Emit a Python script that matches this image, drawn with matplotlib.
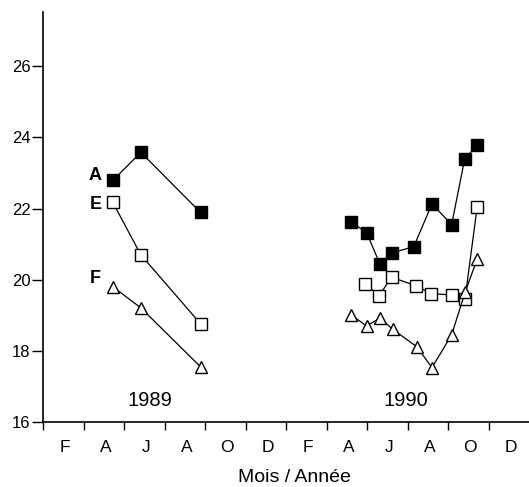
import matplotlib
matplotlib.use("Agg")
import matplotlib.pyplot as plt

plt.rcParams['font.family'] = ['Liberation Sans', 'DejaVu Sans']

# x in months: Feb 1989 ~ 1, Dec 1990 ~ 23
month_labels = ['F', 'A', 'J', 'A', 'O', 'D', 'F', 'A', 'J', 'A', 'O', 'D']

# 1989
x89 = [3.45, 4.83, 7.78]
a89 = [22.79, 23.58, 21.89]
e89 = [22.17, 20.70, 18.76]
f89 = [19.80, 19.21, 17.55]

# 1990
xa90 = [15.21, 15.98, 16.64, 17.21, 18.31, 19.21, 20.18, 20.82, 21.44]
a90 = [21.63, 21.32, 20.44, 20.75, 20.93, 22.13, 21.55, 23.38, 23.80]
xe90 = [15.91, 16.60, 17.21, 18.41, 19.18, 20.18, 20.84, 21.44]
e90 = [19.88, 19.55, 20.07, 19.83, 19.61, 19.57, 19.46, 22.04]
xf90 = [15.21, 15.98, 16.64, 17.26, 18.45, 19.21, 20.18, 20.84, 21.44]
f90 = [19.01, 18.70, 18.92, 18.61, 18.12, 17.53, 18.45, 19.64, 20.58]

fig = plt.figure(figsize=(5.29, 4.87), dpi=100)
ax = fig.add_axes([0.0813, 0.1335, 0.9187, 0.8415])

sq = dict(color='black', lw=0.9, marker='s', markersize=8, markeredgewidth=1.0)
tri = dict(color='black', lw=0.9, marker='^', markersize=8, markeredgewidth=1.0,
           markerfacecolor='white')

for xs, ys in [(x89, a89), (xa90, a90)]:
    ax.plot(xs, ys, markerfacecolor='black', **sq)
for xs, ys in [(x89, e89), (xe90, e90)]:
    ax.plot(xs, ys, markerfacecolor='white', **sq)
for xs, ys in [(x89, f89), (xf90, f90)]:
    ax.plot(xs, ys, **tri)

# series labels
ax.text(2.59, 22.94, 'A', fontsize=13, fontweight='bold', ha='center', va='center')
ax.text(2.59, 22.10, 'E', fontsize=13, fontweight='bold', ha='center', va='center')
ax.text(2.59, 20.04, 'F', fontsize=13, fontweight='bold', ha='center', va='center')

ax.text(5.3, 16.6, '1989', fontsize=14.5, ha='center', va='center')
ax.text(17.9, 16.6, '1990', fontsize=14.5, ha='center', va='center')

ax.set_xlim(0, 24)
ax.set_ylim(16, 27.52)
ax.set_yticks([16, 18, 20, 22, 24, 26])
ax.set_xticks(range(0, 23, 2))
ax.set_xticklabels([])
ax.set_xticks([2 * i + 1.1 for i in range(12)], minor=True)
ax.set_xticklabels(month_labels, minor=True)
ax.tick_params(axis='x', which='minor', length=0, pad=13, labelsize=12.5)
ax.tick_params(axis='x', which='major', length=6, width=1, direction='out')
ax.tick_params(axis='y', length=8, width=1, direction='out', labelsize=12, pad=1)

for s in ['top', 'right']:
    ax.spines[s].set_visible(False)
for s in ['left', 'bottom']:
    ax.spines[s].set_linewidth(1.2)

ax.set_xlabel('Mois / Année', fontsize=14, labelpad=10, x=0.518)

fig.savefig('out.png', dpi=100)
